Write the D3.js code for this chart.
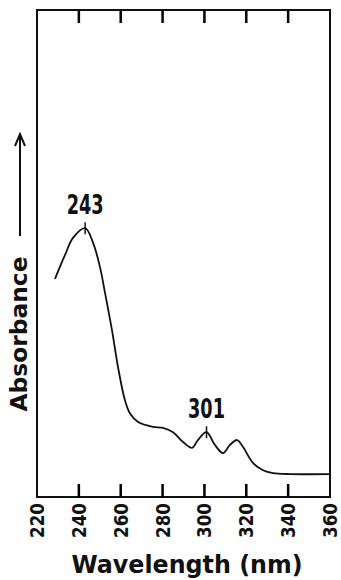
<html>
<head>
  <meta charset="UTF-8">
  <title>Absorbance spectrum</title>
  <script src="https://d3js.org/d3.v7.min.js"></script>
  <style>
    body { margin: 0; background: #fff; }
    text { font-family: "DejaVu Sans", sans-serif; font-weight: bold; fill: #111; }
  </style>
</head>
<body>
  <svg id="chart" width="341" height="580"></svg>
  <script>
    // spectrum (wavelength nm, relative absorbance)
    const wavelengths = [228.6, 233.4, 237.2, 243, 246.8, 250.1, 252.5, 255.8, 258.7, 262.0, 264.4, 268.3, 275.4, 280.2, 285.0, 289.8, 294.1, 296.9, 301, 305.0, 308.9, 312.2, 315.6, 318.4, 323.2, 328.0, 332.8, 340.9, 360];
    const absorbance = [0.448, 0.497, 0.532, 0.552, 0.522, 0.472, 0.419, 0.343, 0.267, 0.199, 0.172, 0.154, 0.144, 0.142, 0.133, 0.113, 0.101, 0.117, 0.133, 0.107, 0.090, 0.107, 0.117, 0.103, 0.070, 0.055, 0.049, 0.047, 0.047];
    const xTicks = [220, 240, 260, 280, 300, 320, 340, 360];
    const peaks = [243, 301];

    const svg = d3.select("#chart");
    const margin = { top: 10, right: 11, bottom: 83, left: 37 };
    const width = +svg.attr("width");
    const height = +svg.attr("height");
    const plotW = width - margin.left - margin.right;
    const plotH = height - margin.top - margin.bottom;
    const tickLen = 13;

    const x = d3.scaleLinear().domain([220, 360]).range([0, plotW]);
    const y = d3.scaleLinear().domain([0, 1]).range([plotH, 0]);

    const g = svg.append("g").attr("transform", `translate(${margin.left},${margin.top})`);

    // frame
    g.append("rect")
      .attr("width", plotW).attr("height", plotH)
      .style("fill", "none").style("stroke", "#111").style("stroke-width", "2px");

    // one group per tick: inward marks top and bottom (inner ticks only), rotated label below
    const ticks = g.selectAll(".xt").data(xTicks).enter().append("g")
      .attr("class", "xt")
      .attr("transform", d => `translate(${x(d)},0)`);

    ticks.filter(d => d > 220 && d < 360).append("path")
      .attr("d", `M0,0V${tickLen}M0,${plotH}V${plotH - tickLen}`)
      .style("fill", "none").style("stroke", "#000").style("stroke-width", "2.5px");

    ticks.append("text")
      .attr("transform", `translate(7,${plotH + 6}) rotate(-90)`)
      .attr("text-anchor", "end")
      .attr("font-size", 20)
      .attr("textLength", 35).attr("lengthAdjust", "spacingAndGlyphs")
      .text(d => d);

    // spectrum line
    const pts = wavelengths.map((w, i) => [w, absorbance[i]]);
    const line = d3.line().x(d => x(d[0])).y(d => y(d[1])).curve(d3.curveCatmullRom.alpha(0.5));
    g.append("path").datum(pts)
      .attr("d", line)
      .style("fill", "none").style("stroke", "#111").style("stroke-width", "1.8px");

    // peak marks and labels
    peaks.forEach(p => {
      const a = absorbance[wavelengths.indexOf(p)];
      g.append("path")
        .attr("d", `M${x(p)},${y(a) - 6}V${y(a) + 6}`)
        .style("stroke", "#111").style("stroke-width", "1.5px");
      g.append("text")
        .attr("x", x(p)).attr("y", y(a) - 14)
        .attr("text-anchor", "middle")
        .attr("font-size", 26)
        .attr("textLength", 37).attr("lengthAdjust", "spacingAndGlyphs")
        .text(p);
    });

    // x axis title
    svg.append("text")
      .attr("x", 187).attr("y", 573)
      .attr("text-anchor", "middle")
      .attr("font-size", 25)
      .attr("textLength", 231).attr("lengthAdjust", "spacingAndGlyphs")
      .text("Wavelength (nm)");

    // y axis title with arrow
    svg.append("text")
      .attr("transform", "translate(27,334) rotate(-90)")
      .attr("text-anchor", "middle")
      .attr("font-size", 23)
      .attr("textLength", 155).attr("lengthAdjust", "spacingAndGlyphs")
      .text("Absorbance");

    svg.append("path")
      .attr("d", "M20,236V136M15,146L20,134L25,146")
      .style("fill", "none").style("stroke", "#111").style("stroke-width", "2px");
  </script>
</body>
</html>
